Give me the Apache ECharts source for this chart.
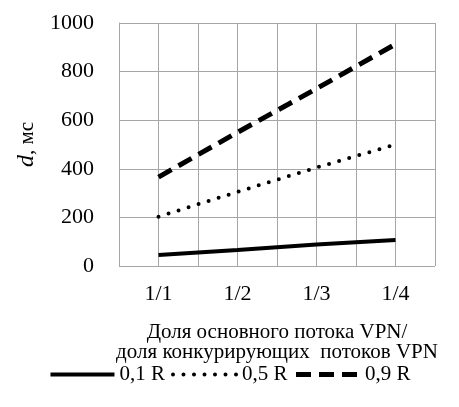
<!DOCTYPE html>
<html>
<head>
<meta charset="utf-8">
<script src="https://cdn.jsdelivr.net/npm/echarts@6/dist/echarts.min.js"></script>
<style>html,body{margin:0;padding:0;background:#fff}#c{width:459px;height:407px}</style>
</head>
<body>
<div id="c"></div>
<script>
// Ratio of the main VPN flow to competing flows
const categories = ['1/1', '1/2', '1/3', '1/4'];
// Delay d, ms, for each load level
const load01 = [45, 66, 88, 107];
const load05 = [203, 305, 405, 500];
const load09 = [366, 550, 730, 913];
const seriesNames = ['0,1 R', '0,5 R', '0,9 R'];
const yTicks = [0, 200, 400, 600, 800, 1000];

const FONT = '"Liberation Serif", "DejaVu Serif", serif';
const toPoints = vals => vals.map((v, i) => [i + 1, v]);

// Line styles shared by series and their legend entries
const styles = [
  {color: '#000', width: 4, type: 'solid'},
  {color: '#000', width: 4, type: [0, 10.5], cap: 'round'},
  {color: '#000', width: 5, type: [15, 8]}
];

const chart = echarts.init(document.getElementById('c'), null, {renderer: 'canvas'});
chart.setOption({
  animation: false,
  backgroundColor: '#fff',
  textStyle: {fontFamily: FONT, color: '#000'},
  grid: {left: 119, right: 24, top: 23, bottom: 141, containLabel: false},
  xAxis: {
    type: 'value', min: 0.5, max: categories.length + 0.5, interval: 0.5,
    axisLine: {show: false}, axisTick: {show: false},
    splitLine: {show: true, lineStyle: {color: '#a6a6a6', width: 1}},
    axisLabel: {
      fontFamily: FONT, fontSize: 22, color: '#000', margin: 17,
      formatter: v => Number.isInteger(v) ? categories[v - 1] : ''
    },
    name: 'Доля основного потока VPN/\nдоля конкурирующих  потоков VPN',
    nameLocation: 'middle', nameGap: 56,
    nameTextStyle: {fontFamily: FONT, fontSize: 21, color: '#000', lineHeight: 20}
  },
  yAxis: {
    type: 'value', min: yTicks[0], max: yTicks[yTicks.length - 1], interval: 200,
    axisLine: {show: true, lineStyle: {color: '#a6a6a6', width: 1}}, axisTick: {show: false},
    splitLine: {show: true, lineStyle: {color: '#a6a6a6', width: 1}},
    axisLabel: {fontFamily: FONT, fontSize: 22, color: '#000', margin: 25, formatter: v => String(v)},
    name: '{i|d}, мс', nameLocation: 'middle', nameGap: 79, nameRotate: 90,
    nameTextStyle: {
      fontFamily: FONT, fontSize: 21, color: '#000',
      rich: {i: {fontFamily: FONT, fontSize: 24, fontStyle: 'italic', color: '#000'}}
    }
  },
  legend: {
    bottom: 17, left: 'center', itemWidth: 64, itemHeight: 14, itemGap: 6,
    itemStyle: {opacity: 0},
    textStyle: {fontFamily: FONT, fontSize: 21, color: '#000'},
    data: seriesNames.map((name, i) => ({name, lineStyle: styles[i]}))
  },
  series: seriesNames.map((name, i) => ({
    name, type: 'line', data: toPoints([load01, load05, load09][i]), symbol: 'none',
    lineStyle: styles[i], itemStyle: {color: '#000'}
  }))
});
</script>
</body>
</html>
